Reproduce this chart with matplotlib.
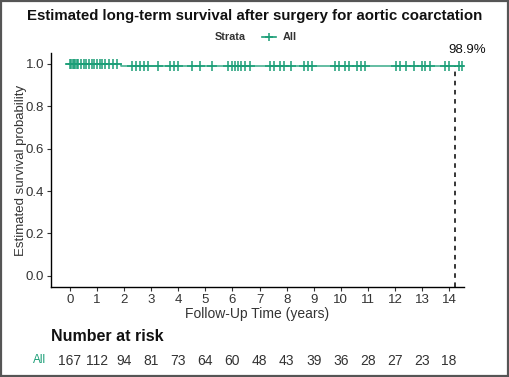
import matplotlib
matplotlib.use("Agg")
import matplotlib.pyplot as plt
from matplotlib.patches import Rectangle
from matplotlib.lines import Line2D

plt.rcParams["font.family"] = ["Liberation Sans", "DejaVu Sans"]

GREEN = "#1b9e77"
DARK = "#333333"

# survival step: time points and survival probability
step_times = [0.0, 1.9, 14.47]
step_surv = [1.0, 0.989, 0.989]

# censoring marks (years)
censor_times = [0.0, 0.05, 0.1, 0.15, 0.2, 0.25, 0.3, 0.4, 0.5, 0.6, 0.7, 0.8, 0.9,
                1.0, 1.1, 1.2, 1.3, 1.45, 1.6, 1.75,
                2.3, 2.45, 2.6, 2.75, 2.9, 3.25, 3.7, 3.85, 4.0, 4.5,
                4.8, 5.24, 5.85, 6.0, 6.1, 6.2, 6.3, 6.45, 6.65,
                7.4, 7.55, 7.75, 7.9, 8.15, 8.65, 8.8, 8.95,
                9.8, 9.95, 10.15, 10.3, 10.6, 10.75, 10.9,
                12.05, 12.2, 12.4, 12.7, 13.0, 13.1, 13.3, 13.85, 14.0, 14.35, 14.47]

risk_years = list(range(15))
risk_counts = [167, 112, 94, 81, 73, 64, 60, 48, 43, 39, 36, 28, 27, 23, 18]

final_time = 14.22
final_label = "98.9%"

fig = plt.figure(figsize=(5.09, 3.77), dpi=100)
fig.patch.set_facecolor("white")
ax = fig.add_axes([0.1002, 0.2387, 0.8114, 0.6207])

ax.step(step_times, step_surv, where="post", color=GREEN, lw=1.2, alpha=0.8, zorder=2)
censor_surv = [1.0 if t < 1.9 else 0.989 for t in censor_times]
ax.plot(censor_times, censor_surv, ls="none", marker="+", ms=7, mew=1.1,
        color=GREEN, zorder=3)
ax.axvline(final_time, ymin=0, ymax=(0.989 + 0.052) / 1.102, color="black",
           ls=(0, (3, 3)), lw=1.1, zorder=1)

ax.set_xlim(-0.7, 14.55)
ax.set_ylim(-0.052, 1.05)
ax.set_xticks(risk_years)
ax.set_yticks([0.0, 0.2, 0.4, 0.6, 0.8, 1.0])
ax.set_yticklabels(["0.0", "0.2", "0.4", "0.6", "0.8", "1.0"])
ax.tick_params(labelsize=9.5, colors=DARK, length=3, width=0.8, pad=2)
for s in ["top", "right"]:
    ax.spines[s].set_visible(False)
for s in ["left", "bottom"]:
    ax.spines[s].set_linewidth(1.0)
ax.set_xlabel("Follow-Up Time (years)", fontsize=10, color=DARK, labelpad=1)
ax.set_ylabel("Estimated survival probability", fontsize=9.5, color=DARK, labelpad=-1)

fig.text(0.5, 0.958, "Estimated long-term survival after surgery for aortic coarctation",
         ha="center", va="center", fontsize=10.8, fontweight="bold", color="#111111")

# legend
fig.text(0.483, 0.902, "Strata", ha="right", va="center", fontsize=7.8, fontweight="bold", color=DARK)
fig.add_artist(Line2D([0.514, 0.543], [0.902, 0.902], color=GREEN, lw=1.2))
fig.add_artist(Line2D([0.5285], [0.902], color=GREEN, marker="+", ms=6, mew=1.1))
fig.text(0.556, 0.902, "All", ha="left", va="center", fontsize=7.8, fontweight="bold", color=DARK)

fig.text(486 / 509, 1 - 50 / 377, final_label, ha="right", va="center", fontsize=9.5,
         color="#111111")

# number at risk table
fig.text(0.1002, 0.108, "Number at risk", ha="left", va="center", fontsize=11.5,
         fontweight="bold", color="#111111")
for yr, n in zip(risk_years, risk_counts):
    x = ax.transData.transform((yr, 0))[0] / fig.bbox.width
    fig.text(x, 0.042, str(n), ha="center", va="center", fontsize=10, color=DARK)
fig.text(0.078, 0.045, "All", ha="center", va="center", fontsize=8.5, color=GREEN)

# outer border
fig.add_artist(Rectangle((0.002, 0.003), 0.996, 0.994, transform=fig.transFigure,
                         fill=False, ec="#555555", lw=1.6))

plt.savefig("out.png", dpi=100, facecolor="white")
